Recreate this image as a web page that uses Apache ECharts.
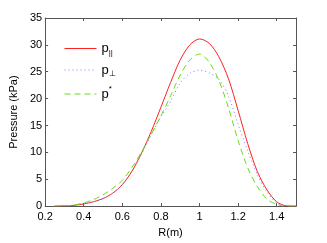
<!DOCTYPE html>
<html><head><meta charset="utf-8">
<script src="https://cdn.jsdelivr.net/npm/echarts@6/dist/echarts.min.js"></script>
<style>html,body{margin:0;padding:0;background:#fff}#c{width:327px;height:243px}</style>
</head><body><div id="c"></div>
<script>
var R = [0.25,0.30,0.35,0.40,0.45,0.50,0.55,0.60,0.65,0.70,0.75,0.80,0.85,0.90,0.95,1.00,1.05,1.10,1.15,1.20,1.25,1.30,1.35,1.40,1.45,1.50];
var pPar  = [0,0.05,0.15,0.4,0.8,1.4,2.4,4.0,6.5,9.9,13.9,18.4,23.0,27.2,30.0,31.1,30.3,27.8,23.7,17.8,11.6,6.4,3.0,0.8,0.05,0];
var pPerp = [0,0.05,0.15,0.4,0.8,1.4,2.4,4.0,6.4,9.7,13.3,16.6,19.5,22.9,24.7,25.3,24.8,23.6,20.5,15.2,10.3,5.8,2.6,0.6,0.05,0];
var pStar = [0,0.05,0.2,0.6,1.2,2.1,3.3,4.8,7.2,10.1,13.4,16.8,20.5,24.4,27.2,28.3,26.8,23.4,18.3,12.2,7.1,3.6,1.3,0.3,0,0];
var xTicks = [0.2,0.4,0.6,0.8,1,1.2,1.4];
var yTicks = [0,5,10,15,20,25,30,35];

function pairs(ys){ return R.map(function(r,i){ return [r, ys[i]]; }); }
var chart = echarts.init(document.getElementById('c'), null, {renderer:'canvas'});
var font = 'Liberation Sans, Arial, sans-serif';
var axisCol = '#555';
chart.setOption({
  animation:false,
  backgroundColor:'#fff',
  grid:{left:42,right:31,top:18,bottom:32,containLabel:false},
  xAxis:[{
    type:'value',min:0.2,max:1.5,interval:0.2,
    name:'R(m)',nameLocation:'middle',nameGap:19,
    nameTextStyle:{color:'#000',fontFamily:font,fontSize:11},
    axisLine:{show:true,lineStyle:{color:axisCol,width:1}},
    axisTick:{show:true,inside:true,length:3,lineStyle:{color:axisCol}},
    axisLabel:{color:'#000',fontFamily:font,fontSize:11,margin:5,showMaxLabel:false,
      formatter:function(v){ var t=+(+v).toFixed(1); return xTicks.indexOf(t)>=0 ? String(t) : ''; }},
    splitLine:{show:false}
  },{
    type:'value',min:0.2,max:1.5,interval:0.2,position:'top',
    axisLine:{show:true,onZero:false,lineStyle:{color:axisCol,width:1}},
    axisTick:{show:true,inside:true,length:3,lineStyle:{color:axisCol}},
    axisLabel:{show:false},splitLine:{show:false}
  }],
  yAxis:[{
    type:'value',min:0,max:35,interval:5,
    name:'Pressure (kPa)',nameLocation:'middle',nameGap:23,nameRotate:90,
    nameTextStyle:{color:'#000',fontFamily:font,fontSize:11},
    axisLine:{show:true,lineStyle:{color:axisCol,width:1}},
    axisTick:{show:true,inside:true,length:3,lineStyle:{color:axisCol}},
    axisLabel:{color:'#000',fontFamily:font,fontSize:11,margin:3,
      formatter:function(v){ return yTicks.indexOf(v)>=0 ? String(v) : ''; }},
    splitLine:{show:false}
  },{
    type:'value',min:0,max:35,interval:5,position:'right',
    axisLine:{show:true,onZero:false,lineStyle:{color:axisCol,width:1}},
    axisTick:{show:true,inside:true,length:3,lineStyle:{color:axisCol}},
    axisLabel:{show:false},splitLine:{show:false}
  }],
  legend:{
    orient:'vertical',left:59,top:37,itemWidth:32,itemHeight:14,itemGap:7,
    itemStyle:{opacity:0},
    lineStyle:{width:1},
    data:['par','perp','star'],
    formatter:function(n){
      if(n==='par') return '{p|p}{s|||}';
      if(n==='perp') return '{p|p}{s|⊥}';
      return '{p|p}{u|*}';
    },
    textStyle:{color:'#000',fontFamily:font,fontSize:13,
      rich:{p:{fontSize:13,fontFamily:font,color:'#000'},
            s:{fontSize:8,fontFamily:font,color:'#000',padding:[8,0,0,0]},
            u:{fontSize:8,fontFamily:font,color:'#000',padding:[0,0,10,0]}}}
  },
  series:[
    {name:'par',type:'line',data:pairs(pPar),smooth:0.3,showSymbol:false,symbol:'none',
     lineStyle:{color:'#ff2020',width:1,type:'solid'},itemStyle:{color:'#ff2020'}},
    {name:'perp',type:'line',data:pairs(pPerp),smooth:0.3,showSymbol:false,symbol:'none',
     lineStyle:{color:'#7a7aff',width:1,type:[1,3]},itemStyle:{color:'#7a7aff'}},
    {name:'star',type:'line',data:pairs(pStar),smooth:0.3,showSymbol:false,symbol:'none',
     lineStyle:{color:'#66dd11',width:1,type:[6,4]},itemStyle:{color:'#66dd11'}}
  ]
});
</script></body></html>
